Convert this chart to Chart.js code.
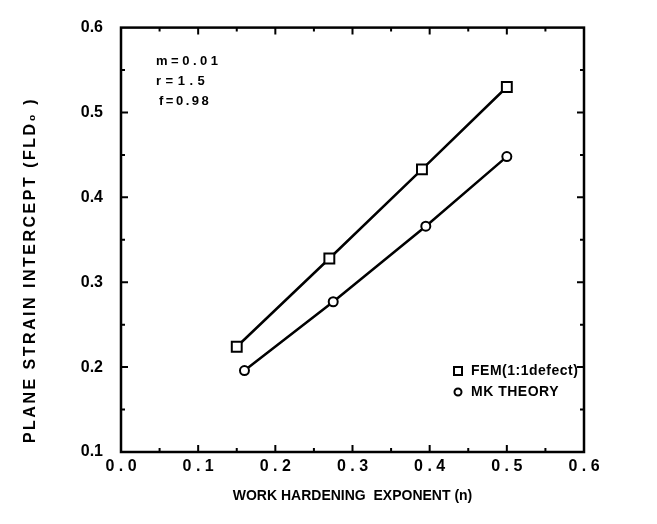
<!DOCTYPE html>
<html>
<head>
<meta charset="utf-8">
<script src="https://cdn.jsdelivr.net/npm/chart.js@4.4.1/dist/chart.umd.min.js"></script>
<style>
  html, body { margin: 0; padding: 0; background: #fff; }
  #wrap { width: 657px; height: 524px; }
</style>
</head>
<body>
<div id="wrap"><canvas id="c" width="657" height="524"></canvas></div>
<script>
// data
const femN = [0.15, 0.27, 0.39, 0.50];
const femFLD = [0.224, 0.328, 0.433, 0.530];
const mkN = [0.16, 0.275, 0.395, 0.50];
const mkFLD = [0.196, 0.277, 0.366, 0.448];
const seriesNames = ['FEM(1:1defect)', 'MK THEORY'];
const notes = ['m=0.01', 'r=1.5', 'f=0.98'];
const xTitle = 'WORK HARDENING  EXPONENT (n)';
const yTitle = 'PLANE STRAIN INTERCEPT (FLD\u2080 )';

const FONT = '"Liberation Sans", Arial, Helvetica, sans-serif';

// frame, inward ticks on all four sides, notes, legend, y title
const decor = {
    id: 'decor',
    afterDraw(chart) {
        const {ctx, chartArea: a, scales: {x, y}} = chart;
        ctx.save();
        ctx.strokeStyle = '#000';
        ctx.lineWidth = 2.5;
        ctx.strokeRect(a.left, a.top, a.right - a.left, a.bottom - a.top);

        ctx.lineWidth = 2;
        for (let v = 0.05; v < 0.6; v += 0.05) {
            const px = x.getPixelForValue(v);
            const major = Math.abs(v * 10 - Math.round(v * 10)) < 1e-6;
            const len = major ? 7 : 4;
            ctx.beginPath();
            ctx.moveTo(px, a.bottom); ctx.lineTo(px, a.bottom - len);
            ctx.moveTo(px, a.top); ctx.lineTo(px, a.top + len);
            ctx.stroke();
        }
        for (let v = 0.15; v < 0.6; v += 0.05) {
            const py = y.getPixelForValue(v);
            const major = Math.abs(v * 10 - Math.round(v * 10)) < 1e-6;
            const len = major ? 7 : 4;
            ctx.beginPath();
            ctx.moveTo(a.left, py); ctx.lineTo(a.left + len, py);
            ctx.moveTo(a.right, py); ctx.lineTo(a.right - len, py);
            ctx.stroke();
        }

        // parameter notes
        ctx.fillStyle = '#000';
        ctx.font = 'bold 13px ' + FONT;
        ctx.textBaseline = 'middle';
        ctx.textAlign = 'left';
        const sp = ['3.5px', '4.5px', '2.5px'];
        notes.forEach((t, i) => {
            ctx.letterSpacing = sp[i];
            ctx.fillText(t, a.left + 35 + (i === 2 ? 3 : 0), a.top + 34 + i * 20);
        });

        // legend
        ctx.font = 'bold 14px ' + FONT;
        ctx.letterSpacing = '0.5px';
        const lx = 458, ly = [371, 392];
        ctx.lineWidth = 2;
        ctx.fillStyle = '#fff';
        ctx.fillRect(lx - 4, ly[0] - 4, 8, 8);
        ctx.strokeRect(lx - 4, ly[0] - 4, 8, 8);
        ctx.beginPath();
        ctx.arc(lx, ly[1], 3.5, 0, Math.PI * 2);
        ctx.fill(); ctx.stroke();
        ctx.fillStyle = '#000';
        seriesNames.forEach((t, i) => ctx.fillText(t, lx + 13, ly[i]));

        // y title
        ctx.font = 'bold 16px ' + FONT;
        ctx.letterSpacing = '2.5px';
        ctx.translate(31, 270);
        ctx.rotate(-Math.PI / 2);
        ctx.textAlign = 'center';
        ctx.fillText(yTitle, 0, 0);
        ctx.restore();
    }
};

new Chart(document.getElementById('c').getContext('2d'), {
    type: 'scatter',
    data: {
        datasets: [{
            label: seriesNames[0],
            data: femN.map((n, i) => ({x: n, y: femFLD[i]})),
            showLine: true,
            borderColor: '#000',
            borderWidth: 2.5,
            pointStyle: 'rect',
            pointRadius: 7,
            pointBorderWidth: 2,
            pointBackgroundColor: '#fff',
            pointBorderColor: '#000'
        }, {
            label: seriesNames[1],
            data: mkN.map((n, i) => ({x: n, y: mkFLD[i]})),
            showLine: true,
            borderColor: '#000',
            borderWidth: 2.5,
            pointStyle: 'circle',
            pointRadius: 4.5,
            pointBorderWidth: 2,
            pointBackgroundColor: '#fff',
            pointBorderColor: '#000'
        }]
    },
    options: {
        responsive: false,
        animation: false,
        layout: {padding: {left: 0, top: 14, right: 73, bottom: 0}},
        plugins: {legend: {display: false}, tooltip: {enabled: false}},
        scales: {
            x: {
                type: 'linear', min: 0, max: 0.6,
                grid: {display: false, drawTicks: false},
                border: {display: false},
                afterFit: s => { s.height = 72; },
                ticks: {
                    stepSize: 0.1, padding: 5, color: '#000',
                    font: {family: FONT, size: 16, weight: 'bold'},
                    callback: v => v.toFixed(1).split('').join(' ')
                },
                title: {
                    display: true, text: xTitle, color: '#000',
                    font: {family: FONT, size: 14, weight: 'bold'},
                    padding: {top: 0, bottom: 19}
                }
            },
            y: {
                type: 'linear', min: 0.1, max: 0.6,
                grid: {display: false, drawTicks: false},
                border: {display: false},
                afterFit: s => { s.width = 121; },
                ticks: {
                    stepSize: 0.1, padding: 18, color: '#000',
                    font: {family: FONT, size: 16, weight: 'bold'},
                    callback: v => v.toFixed(1)
                }
            }
        }
    },
    plugins: [decor]
});
</script>
</body>
</html>
